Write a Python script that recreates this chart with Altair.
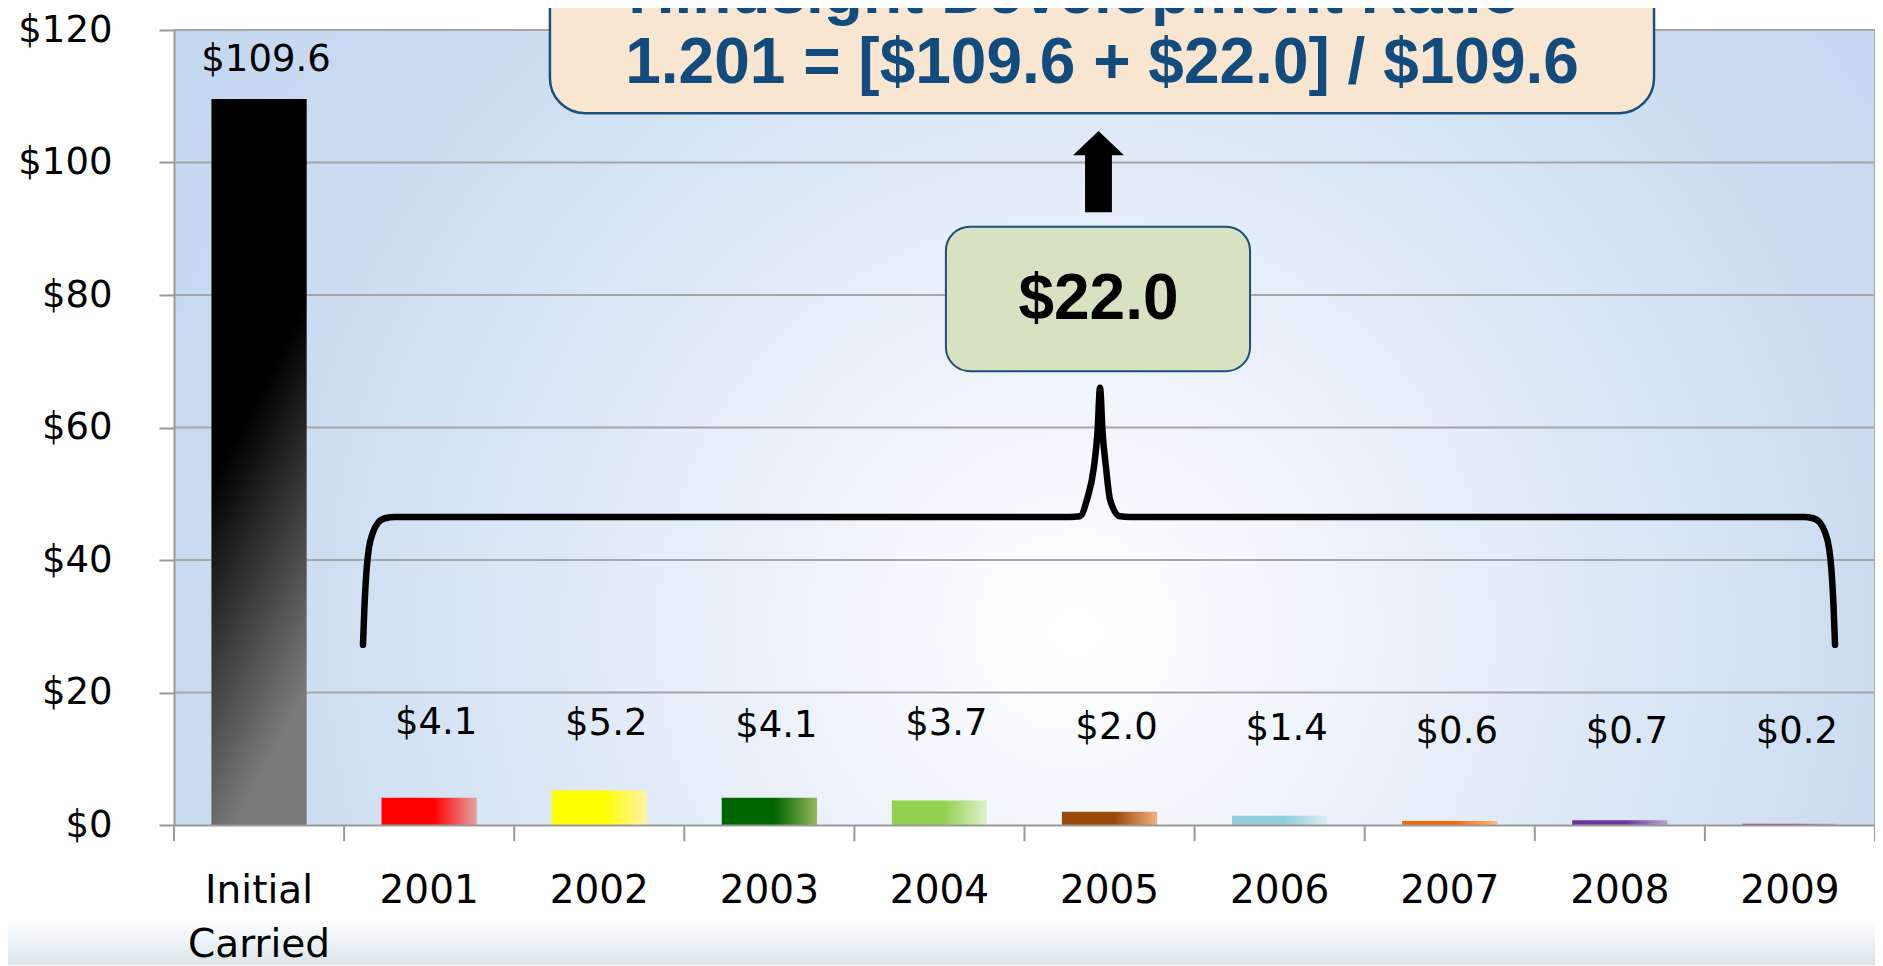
import altair as alt
import pandas as pd

# ---------------- data ----------------
categories = ["Initial Carried", "2001", "2002", "2003", "2004", "2005", "2006", "2007", "2008", "2009"]
values = [109.6, 4.1, 5.2, 4.1, 3.7, 2.0, 1.4, 0.6, 0.7, 0.2]
value_labels = ["$109.6", "$4.1", "$5.2", "$4.1", "$3.7", "$2.0", "$1.4", "$0.6", "$0.7", "$0.2"]
label_y = [115.5, 15.4, 15.2, 14.9, 15.2, 14.7, 14.5, 14.1, 14.1, 14.1]
bar_dark = ["#000000", "#FF0000", "#FFFF00", "#006400", "#92D050", "#984807",
            "#92CDDC", "#FF6600", "#7030A0", "#B0407A"]
bar_light = ["#7A7A7A", "#E3A3A3", "#FFF3A8", "#93B95A", "#E2F1CF", "#F2B07E",
             "#DAEEF3", "#FFB783", "#B7A4CC", "#D9A5C0"]
y_ticks = [0, 20, 40, 60, 80, 100, 120]
slot_edges = [0, 1, 2, 3, 4, 5, 6, 7, 8, 9, 10]

# annotation coordinates: x in category-slot units (0..10), y in $ units
brace_x = [1.111, 1.120, 1.132, 1.146, 1.170, 1.199, 1.240, 1.299,
           5.267, 5.326, 5.367, 5.408, 5.429, 5.444, 5.459, 5.479, 5.503, 5.561, 5.620,
           9.577, 9.636, 9.677, 9.706, 9.730, 9.744, 9.756, 9.765]
brace_y = [27.2, 33.2, 38.5, 41.8, 44.2, 45.6, 46.3, 46.5,
           46.5, 46.6, 49.1, 54.0, 59.2, 66.0, 59.2, 54.0, 49.1, 46.6, 46.5,
           46.5, 46.3, 45.6, 44.2, 41.8, 38.5, 33.2, 27.2]
arrow_head_x = [5.285, 5.435, 5.585]
arrow_head_y = [101.1, 104.75, 101.1]
arrow_shaft = {"x": 5.356, "x2": 5.514, "y": 92.5, "y2": 101.4}
ratio_lines = ["Hindsight Development Ratio =", "1.201 = [$109.6 + $22.0] / $109.6"]
ratio_baseline_y = [122.6, 112.0]
ratio_box = {"x": 2.210, "x2": 8.701, "y": 107.45, "y2": 140.0}
sum_text = "$22.0"
sum_box = {"x": 4.538, "x2": 6.326, "y": 68.5, "y2": 90.3}

# ---------------- helpers ----------------
FONT = "DejaVu Sans"
BOLD = "Liberation Sans"


def ax_scale():
    return alt.Scale(domain=[0, 10], nice=False, zero=False)


def ay_scale():
    return alt.Scale(domain=[0, 120], nice=False, zero=False)


def AX(f):
    return alt.X(f"{f}:Q", scale=ax_scale(), axis=None)


def AX2(f):
    return alt.X2(f"{f}:Q")


def AY(f):
    return alt.Y(f"{f}:Q", scale=ay_scale(), axis=None)


def AY2(f):
    return alt.Y2(f"{f}:Q")


band_scale = dict(domain=categories, paddingInner=0.44, paddingOuter=0.22)


def hgrad(dark, light):
    return alt.LinearGradient(
        gradient="linear",
        stops=[alt.GradientStop(color=dark, offset=0),
               alt.GradientStop(color=dark, offset=0.55),
               alt.GradientStop(color=light, offset=1)],
        x1=0, x2=1, y1=0, y2=0)


def vgrad(dark, light):
    return alt.LinearGradient(
        gradient="linear",
        stops=[alt.GradientStop(color=dark, offset=0),
               alt.GradientStop(color=dark, offset=0.5),
               alt.GradientStop(color=light, offset=1)],
        x1=0, x2=0.25, y1=0, y2=1)


layers = []

# page bottom soft gradient
bottom_df = pd.DataFrame([{"x": -1.0, "x2": 10.1, "y": -10.0, "y2": -22.0}])
layers.append(
    alt.Chart(bottom_df).mark_rect(
        fill=alt.LinearGradient(gradient="linear",
                                stops=[alt.GradientStop(color="#FFFFFF", offset=0),
                                       alt.GradientStop(color="#FFFFFF", offset=0.35),
                                       alt.GradientStop(color="#D5E2E8", offset=1)],
                                x1=0, x2=0, y1=0, y2=1)
    ).encode(x=AX("x"), x2=AX2("x2"), y=AY("y"), y2=AY2("y2"))
)

# plot background radial gradient
bg_df = pd.DataFrame([{"x": 0, "x2": 10, "y": 0, "y2": 120}])
layers.append(
    alt.Chart(bg_df).mark_rect(
        fill=alt.RadialGradient(gradient="radial",
                                stops=[alt.GradientStop(color="#FFFFFF", offset=0),
                                       alt.GradientStop(color="#F2F6FC", offset=0.2),
                                       alt.GradientStop(color="#CCDDF2", offset=0.75),
                                       alt.GradientStop(color="#C4D8F0", offset=1)],
                                x1=0.53, y1=0.62, r1=0, x2=0.53, y2=0.62, r2=0.62)
    ).encode(x=AX("x"), x2=AX2("x2"), y=AY("y"), y2=AY2("y2"))
)

# gridlines
grid_df = pd.DataFrame({"y": y_ticks[1:]})
grid_df["x"] = 0
grid_df["x2"] = 10
layers.append(
    alt.Chart(grid_df).mark_rule(color="#A6A6A6", strokeWidth=2)
    .encode(x=AX("x"), x2=AX2("x2"), y=AY("y"))
)
# right border
rb_df = pd.DataFrame([{"x": 10, "y": 0, "y2": 120}])
layers.append(
    alt.Chart(rb_df).mark_rule(color="#A6A6A6", strokeWidth=2)
    .encode(x=AX("x"), y=AY("y"), y2=AY2("y2"))
)
# x-axis ticks at slot boundaries
tick_df = pd.DataFrame({"x": slot_edges})
tick_df["y"] = 0
tick_df["y2"] = -2.45
layers.append(
    alt.Chart(tick_df).mark_rule(color="#999999", strokeWidth=2)
    .encode(x=AX("x"), y=AY("y"), y2=AY2("y2"))
)

# bars
bars_df = pd.DataFrame({"cat": categories, "value": values})
for i, c in enumerate(categories):
    if i == 0:
        xenc = alt.X("cat:N", sort=categories, scale=alt.Scale(**band_scale),
                     axis=alt.Axis(title=None, labelAngle=0, labelFont=FONT, labelFontSize=39,
                                   labelColor="black", labelPadding=30, labelLineHeight=54,
                                   labelBaseline="top", labelOverlap=False, labelBound=False,
                                   labelExpr="datum.label == 'Initial Carried' ? ['Initial', 'Carried'] : datum.label",
                                   tickSize=16, tickOpacity=0,
                                   domainColor="#999999", domainWidth=2, grid=False, zindex=1))
        yenc = alt.Y("value:Q", scale=ay_scale(),
                     axis=alt.Axis(title=None, values=y_ticks, labelExpr="'$' + datum.value",
                                   labelFont=FONT, labelFontSize=37, labelColor="black",
                                   labelPadding=47, tickSize=15, tickColor="#999999", tickWidth=2,
                                   domainColor="#999999", domainWidth=2, grid=False, zindex=1))
        fill = vgrad(bar_dark[i], bar_light[i])
    else:
        xenc = alt.X("cat:N", sort=categories, scale=alt.Scale(**band_scale), axis=None)
        yenc = alt.Y("value:Q", scale=ay_scale(), axis=None)
        fill = hgrad(bar_dark[i], bar_light[i])
    layers.append(
        alt.Chart(bars_df).transform_filter(alt.datum.cat == c)
        .mark_bar(fill=fill, strokeWidth=0)
        .encode(x=xenc, y=yenc)
    )

# value labels
lab_df = pd.DataFrame({"cat": categories, "ly": label_y, "txt": value_labels})
layers.append(
    alt.Chart(lab_df).mark_text(font=FONT, fontSize=37, color="black", dx=7, baseline="middle")
    .encode(x=alt.X("cat:N", sort=categories, scale=alt.Scale(**band_scale), axis=None),
            y=AY("ly"), text="txt:N")
)

# brace
brace_df = pd.DataFrame({"bx": brace_x, "by": brace_y, "o": list(range(len(brace_x)))})
layers.append(
    alt.Chart(brace_df).mark_line(color="black", strokeWidth=6.5, interpolate="monotone",
                                  strokeCap="round", strokeJoin="round")
    .encode(x=AX("bx"), y=AY("by"), order="o:Q")
)

# arrow
shaft_df = pd.DataFrame([arrow_shaft])
layers.append(
    alt.Chart(shaft_df).mark_rect(color="black")
    .encode(x=AX("x"), x2=AX2("x2"), y=AY("y"), y2=AY2("y2"))
)
head_df = pd.DataFrame({"hx": arrow_head_x, "hy": arrow_head_y})
head_df["base"] = min(arrow_head_y)
layers.append(
    alt.Chart(head_df).mark_area(color="black", interpolate="linear")
    .encode(x=AX("hx"), y=AY("hy"), y2=AY2("base"))
)

# ratio call-out box
rbox_df = pd.DataFrame([ratio_box])
layers.append(
    alt.Chart(rbox_df).mark_rect(fill="#F9E6D1", stroke="#1A4F7E", strokeWidth=2.5, cornerRadius=35)
    .encode(x=AX("x"), x2=AX2("x2"), y=AY("y"), y2=AY2("y2"))
)
rtxt_df = pd.DataFrame({"t": ratio_lines, "ty": ratio_baseline_y})
rtxt_df["tx"] = 5.456
layers.append(
    alt.Chart(rtxt_df).mark_text(font=BOLD, fontWeight="bold", fontSize=64, color="#124C7E",
                                 baseline="alphabetic", align="center")
    .encode(x=AX("tx"), y=AY("ty"), text="t:N")
)

# $22.0 box
sbox_df = pd.DataFrame([sum_box])
layers.append(
    alt.Chart(sbox_df).mark_rect(fill="#D6E2C2", stroke="#1A4F7E", strokeWidth=2, cornerRadius=24)
    .encode(x=AX("x"), x2=AX2("x2"), y=AY("y"), y2=AY2("y2"))
)
stxt_df = pd.DataFrame([{"t": sum_text, "tx": 5.435, "ty": 76.4}])
layers.append(
    alt.Chart(stxt_df).mark_text(font=BOLD, fontWeight="bold", fontSize=64, color="black",
                                 baseline="alphabetic", align="center")
    .encode(x=AX("tx"), y=AY("ty"), text="t:N")
)

chart = (
    alt.layer(*layers)
    .resolve_scale(x="independent", y="independent")
    .properties(width=1701, height=795,
                padding={"left": 166, "top": 22, "right": 0, "bottom": 140},
                autosize=alt.AutoSizeParams(type="none"),
                background="white")
    .configure_view(stroke=None)
)

chart.save("out.html", embed_options={"renderer": "svg", "actions": False})
